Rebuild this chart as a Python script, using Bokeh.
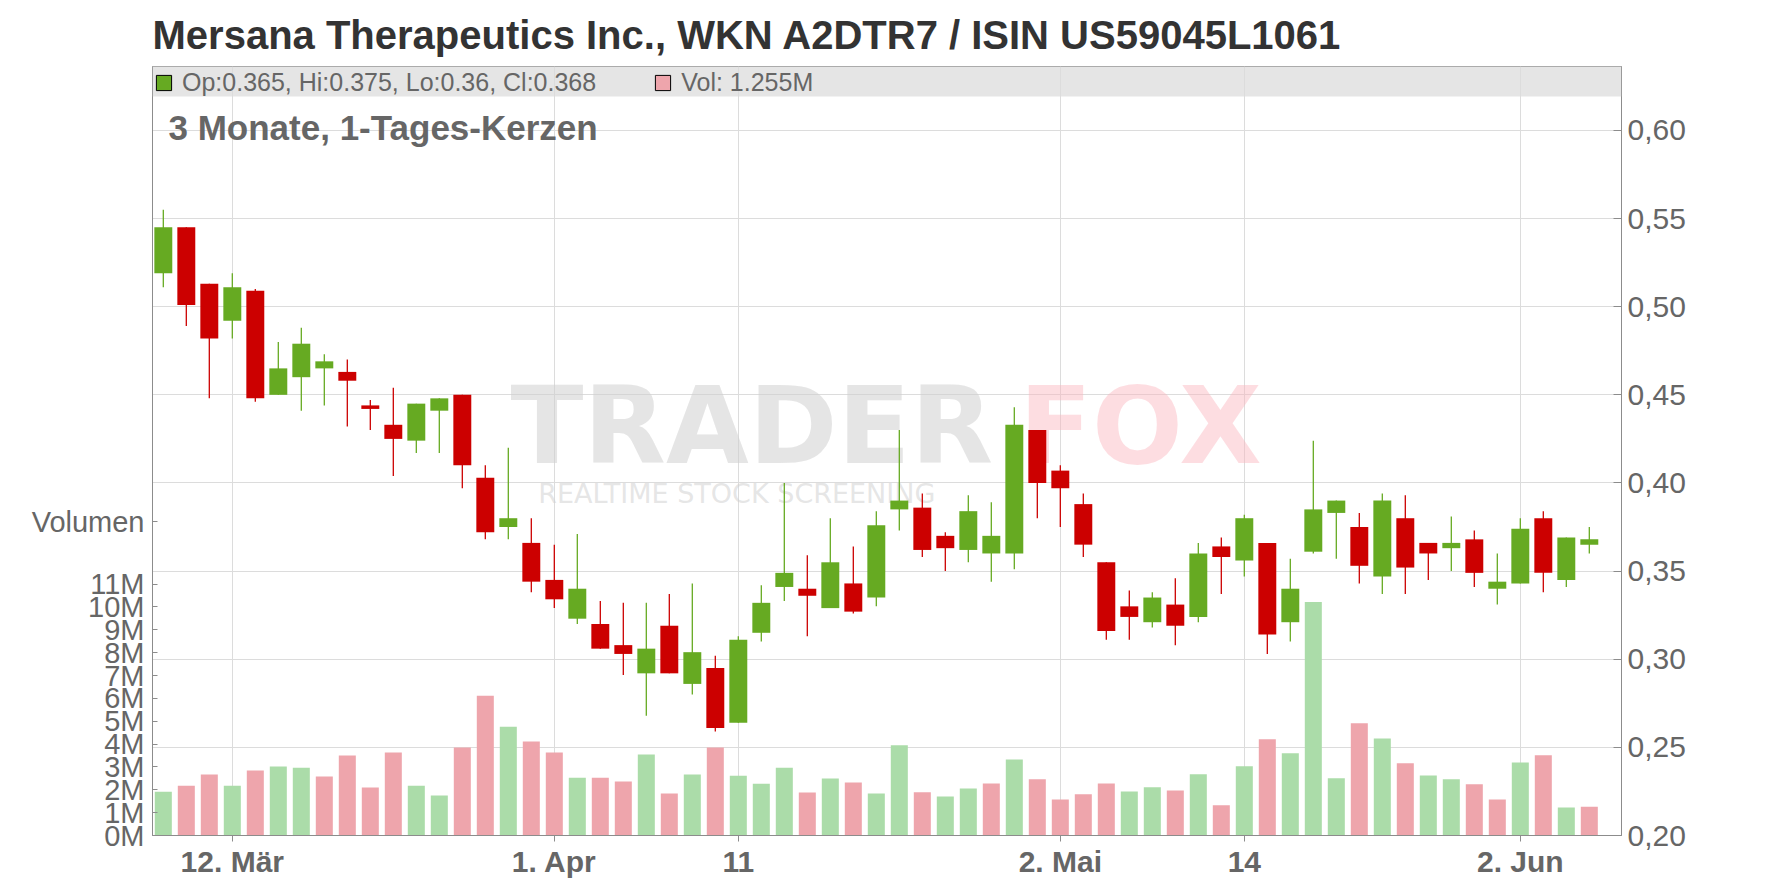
import pandas as pd
from bokeh.plotting import figure
from bokeh.models import (Range1d, LinearAxis, FixedTicker, CustomJSTickFormatter,
                          ColumnDataSource, BoxAnnotation, Label, Legend, LegendItem)
from bokeh.embed import file_html
from bokeh.resources import INLINE

# ---------------- data ----------------
HOLIDAYS = ["2025-04-18", "2025-05-26"]
dates = [d.strftime("%Y-%m-%d") for d in pd.bdate_range("2025-03-07", "2025-06-05")
         if d.strftime("%Y-%m-%d") not in HOLIDAYS]

opens = [0.519, 0.545, 0.513, 0.492, 0.509, 0.450, 0.460, 0.465, 0.463, 0.444,
         0.433, 0.424, 0.441, 0.450, 0.403, 0.375, 0.366, 0.345, 0.323, 0.320,
         0.308, 0.292, 0.319, 0.286, 0.295, 0.264, 0.315, 0.341, 0.340, 0.329,
         0.343, 0.335, 0.385, 0.386, 0.370, 0.362, 0.360, 0.360, 0.430, 0.407,
         0.388, 0.355, 0.330, 0.321, 0.331, 0.324, 0.364, 0.356, 0.366, 0.321,
         0.361, 0.383, 0.375, 0.347, 0.380, 0.366, 0.363, 0.368, 0.340, 0.343,
         0.380, 0.345, 0.365]
highs = [0.555, 0.545, 0.513, 0.519, 0.510, 0.480, 0.488, 0.473, 0.470, 0.447,
         0.454, 0.445, 0.448, 0.450, 0.410, 0.420, 0.380, 0.365, 0.371, 0.333,
         0.332, 0.332, 0.337, 0.343, 0.302, 0.313, 0.342, 0.400, 0.359, 0.380,
         0.364, 0.384, 0.430, 0.394, 0.372, 0.393, 0.389, 0.443, 0.430, 0.410,
         0.394, 0.355, 0.339, 0.338, 0.346, 0.366, 0.369, 0.382, 0.366, 0.357,
         0.424, 0.390, 0.383, 0.394, 0.393, 0.366, 0.381, 0.373, 0.360, 0.380,
         0.384, 0.369, 0.375]
lows = [0.511, 0.489, 0.448, 0.482, 0.446, 0.450, 0.441, 0.444, 0.432, 0.430,
        0.404, 0.417, 0.417, 0.397, 0.368, 0.368, 0.338, 0.329, 0.320, 0.306,
        0.291, 0.268, 0.292, 0.280, 0.259, 0.264, 0.310, 0.333, 0.313, 0.329,
        0.326, 0.330, 0.373, 0.358, 0.350, 0.355, 0.344, 0.351, 0.380, 0.375,
        0.358, 0.311, 0.311, 0.318, 0.308, 0.321, 0.337, 0.347, 0.303, 0.310,
        0.360, 0.357, 0.343, 0.337, 0.337, 0.345, 0.350, 0.341, 0.331, 0.343,
        0.338, 0.341, 0.360]
closes = [0.545, 0.501, 0.482, 0.511, 0.448, 0.465, 0.479, 0.469, 0.458, 0.442,
          0.425, 0.445, 0.448, 0.410, 0.372, 0.380, 0.344, 0.334, 0.340, 0.306,
          0.303, 0.306, 0.292, 0.304, 0.261, 0.311, 0.332, 0.349, 0.336, 0.355,
          0.327, 0.376, 0.390, 0.362, 0.363, 0.384, 0.370, 0.433, 0.400, 0.397,
          0.365, 0.316, 0.324, 0.335, 0.319, 0.360, 0.358, 0.380, 0.314, 0.340,
          0.385, 0.390, 0.353, 0.390, 0.352, 0.360, 0.366, 0.349, 0.344, 0.374,
          0.349, 0.369, 0.368]
volumes_m = [1.92, 2.18, 2.67, 2.18, 2.84, 3.02, 2.97, 2.58, 3.50, 2.10,
             3.63, 2.18, 1.75, 3.85, 6.12, 4.76, 4.11, 3.63, 2.53, 2.53,
             2.36, 3.54, 1.84, 2.67, 3.85, 2.62, 2.27, 2.97, 1.88, 2.49,
             2.32, 1.84, 3.95, 1.89, 1.71, 2.06, 2.28, 3.33, 2.46, 1.58,
             1.80, 2.28, 1.93, 2.11, 1.97, 2.68, 1.32, 3.03, 4.21, 3.60,
             10.22, 2.50, 4.91, 4.25, 3.16, 2.63, 2.46, 2.24, 1.58, 3.20,
             3.51, 1.23, 1.255]

tick_dates = ["2025-03-12", "2025-04-01", "2025-04-11", "2025-05-02", "2025-05-14", "2025-06-02"]
tick_labels = ["12. Mär", "1. Apr", "11", "2. Mai", "14", "2. Jun"]
price_ticks = [0.20, 0.25, 0.30, 0.35, 0.40, 0.45, 0.50, 0.55, 0.60]
volume_ticks = [0, 1, 2, 3, 4, 5, 6, 7, 8, 9, 10, 11]

TITLE = "Mersana Therapeutics Inc., WKN A2DTR7 / ISIN US59045L1061"
SUBTITLE = "3 Monate, 1-Tages-Kerzen"
VOL_TITLE = "Volumen"
WATERMARK_A, WATERMARK_B, WATERMARK_C = "TRADER", "FOX", "REALTIME STOCK SCREENING"

# ---------------- styles ----------------
FONT = "Liberation Sans"
WM_FONT = "DejaVu Sans"
GREEN, RED = "#66aa22", "#cc0000"
VOL_GREEN, VOL_RED = "#abdca9", "#eea5ac"
GRID = "#dcdcdc"
AXIS = "#8c8c8c"
LABEL = "#666666"

idx = list(range(len(dates)))
up = [c >= o for o, c in zip(opens, closes)]
vol_up = [closes[0] >= opens[0]] + [closes[i] >= closes[i - 1] for i in range(1, len(closes))]

src = ColumnDataSource(dict(
    x=idx, open=opens, high=highs, low=lows, close=closes,
    top=[max(o, c) for o, c in zip(opens, closes)],
    bottom=[min(o, c) for o, c in zip(opens, closes)],
    color=[GREEN if u else RED for u in up],
    vol=volumes_m,
    vcolor=[VOL_GREEN if u else VOL_RED for u in vol_up],
))

# layout (page pixels): frame from x=152..1621, y=66..836
W, H = 1768, 880
BL, BR, BT, BB = 152, 147, 66, 44
FRAME_BOTTOM = H - BB
px_per_unit = 23.0
x0 = -0.47
x1 = x0 + (W - BL - BR) / px_per_unit
frame_h = H - BT - BB
price_per_px = 0.05 / 88.25
y1 = 0.20 + frame_h * price_per_px
vol_px = 22.88
vol_top = frame_h / vol_px
vol_title_at = (FRAME_BOTTOM - 522) / vol_px  # where the "Volumen" caption sits on the volume axis


def page_y(py, font_px=0):
    """price value for a page y position (text baseline corrected for label rendering)"""
    return 0.2 + (FRAME_BOTTOM - (py - 0.35 * font_px)) * price_per_px


p = figure(width=W, height=H, output_backend="svg", toolbar_location=None,
           x_range=Range1d(x0, x1), y_range=Range1d(0.20, y1),
           y_axis_location="right",
           min_border_left=BL, min_border_right=BR, min_border_top=BT, min_border_bottom=BB)
p.extra_y_ranges = {"vol": Range1d(0, vol_top)}
p.background_fill_color = "white"
p.border_fill_color = "white"
p.outline_line_color = "#a0a0a0"
p.outline_line_width = 1

# title
p.title.text = TITLE
p.title.text_font = FONT
p.title.text_font_style = "bold"
p.title.text_font_size = "40px"
p.title.text_color = "#333333"
p.title.align = "left"
p.title.standoff = 20

# grids
x_ticks = [dates.index(d) for d in tick_dates]
p.xgrid.ticker = FixedTicker(ticks=x_ticks)
p.ygrid.ticker = FixedTicker(ticks=price_ticks)
p.xgrid.grid_line_color = GRID
p.ygrid.grid_line_color = GRID

# x axis
xa = p.xaxis[0]
xa.ticker = FixedTicker(ticks=x_ticks)
xa.major_label_overrides = {i: l for i, l in zip(x_ticks, tick_labels)}
xa.major_label_text_font = FONT
xa.major_label_text_font_style = "bold"
xa.major_label_text_font_size = "30px"
xa.major_label_text_color = LABEL
xa.axis_line_color = AXIS
xa.major_tick_line_color = AXIS
xa.major_tick_out = 6
xa.major_tick_in = 0
xa.minor_tick_line_color = None
xa.major_label_standoff = 3

# price axis (right)
ya = p.yaxis[0]
ya.ticker = FixedTicker(ticks=price_ticks)
ya.formatter = CustomJSTickFormatter(code="return tick.toFixed(2).replace('.', ',');")
ya.major_label_text_font = FONT
ya.major_label_text_font_size = "30px"
ya.major_label_text_color = LABEL
ya.axis_line_color = AXIS
ya.major_tick_line_color = AXIS
ya.major_tick_in = 8
ya.major_tick_out = 0
ya.minor_tick_line_color = None
ya.major_label_standoff = 6

# volume axis (left); its caption "Volumen" sits on the axis above the ticks
va = LinearAxis(y_range_name="vol")
va.ticker = FixedTicker(ticks=volume_ticks + [vol_title_at])
va.formatter = CustomJSTickFormatter(
    args=dict(cap=VOL_TITLE, lim=max(volume_ticks)),
    code="return tick > lim + 0.5 ? cap : tick.toFixed(0) + 'M';")
va.major_label_text_font = FONT
va.major_label_text_font_size = "29px"
va.major_label_text_color = LABEL
va.axis_line_color = AXIS
va.major_tick_line_color = AXIS
va.major_tick_in = 5
va.major_tick_out = 0
va.minor_tick_line_color = None
va.major_label_standoff = 8
p.add_layout(va, "left")

# watermark
p.add_layout(Label(x=15.1, y=page_y(463, 107), text=WATERMARK_A, text_font=WM_FONT, text_font_style="bold",
                   text_font_size="107px", text_color="#d0d0d0", text_alpha=0.55,
                   text_baseline="alphabetic", level="underlay"))
p.add_layout(Label(x=37.2, y=page_y(463, 107), text=WATERMARK_B, text_font=WM_FONT, text_font_style="bold",
                   text_font_size="107px", text_color="#fab4bd", text_alpha=0.45,
                   text_baseline="alphabetic", level="underlay"))
p.add_layout(Label(x=16.3, y=page_y(503, 27), text=WATERMARK_C, text_font=WM_FONT,
                   text_font_size="27px", text_color="#d0d0d0", text_alpha=0.55,
                   text_baseline="alphabetic", level="underlay"))

# volume bars
p.vbar(x="x", width=0.74, top="vol", bottom=0, source=src, y_range_name="vol",
       fill_color="vcolor", line_color=None)
# candles
p.segment(x0="x", y0="low", x1="x", y1="high", source=src, line_color="color", line_width=1.3)
p.vbar(x="x", width=0.78, top="top", bottom="bottom", source=src, fill_color="color", line_color=None)

# legend band
p.add_layout(BoxAnnotation(bottom=page_y(96), fill_color="#dcdcdc", fill_alpha=0.75, line_alpha=0))

# legend swatches (off-screen helper glyphs, only used for the legend)
r_leg1 = p.quad(left=[x0 - 5], right=[x0 - 4], top=[0.1], bottom=[0.05], fill_color=GREEN, line_color="black")
r_leg2 = p.quad(left=[x0 - 5], right=[x0 - 4], top=[0.1], bottom=[0.05], fill_color=VOL_RED, line_color="black")
lbl1 = "Op:%s, Hi:%s, Lo:%s, Cl:%s" % tuple(("%g" % v) for v in (opens[-1], highs[-1], lows[-1], closes[-1]))
lbl2 = "Vol: %sM" % ("%g" % volumes_m[-1])
leg = Legend(items=[LegendItem(label=lbl1, renderers=[r_leg1]), LegendItem(label=lbl2, renderers=[r_leg2])],
             location="top_left", orientation="horizontal", margin=0, padding=2, spacing=57,
             glyph_width=19, glyph_height=19, label_standoff=9, label_height=22,
             label_text_font=FONT, label_text_font_size="25px", label_text_color=LABEL,
             background_fill_alpha=0, border_line_alpha=0)
p.add_layout(leg)

# subtitle inside the plot
p.add_layout(Label(x=x0, y=page_y(139, 35), x_offset=16, text=SUBTITLE,
                   text_font=FONT, text_font_style="bold", text_font_size="35px",
                   text_color=LABEL, text_baseline="alphabetic"))

open("out.html", "w").write(file_html(p, INLINE))
